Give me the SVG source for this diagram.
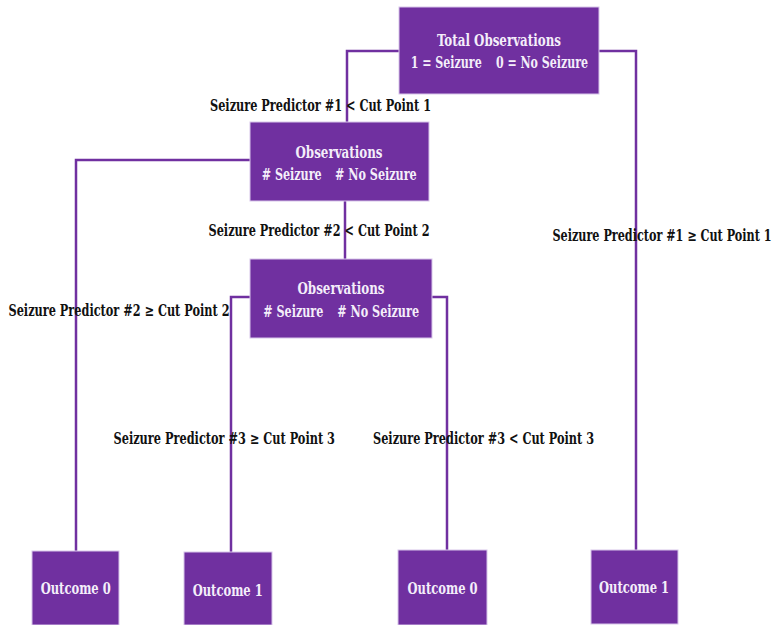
<svg xmlns="http://www.w3.org/2000/svg" width="774" height="625" viewBox="0 0 774 625">
<style>
.box{fill:#7030a0;stroke:#d8c6ea;stroke-width:1}
.bt{font-family:"DejaVu Serif Condensed","DejaVu Serif","Liberation Serif",serif;font-weight:bold;font-size:16px;fill:#f4eefa}
.c{text-anchor:middle}
.lb{font-family:"DejaVu Serif Condensed","DejaVu Serif","Liberation Serif",serif;font-weight:bold;font-size:16px;fill:#111111}
.ln{fill:none;stroke:#7030a0;stroke-width:2.5}
</style>
<rect width="774" height="625" fill="#ffffff"/>
<g id="connectors">
<polyline class="ln" points="399,51 347,51 347,122"/>
<polyline class="ln" points="599,51 636,51 636,550"/>
<polyline class="ln" points="250,160 76,160 76,551"/>
<line class="ln" x1="345" y1="201" x2="345" y2="259"/>
<polyline class="ln" points="250,297 231,297 231,552"/>
<polyline class="ln" points="432,297 447,297 447,550"/>
</g>
<g id="labels">
<text class="lb" x="210" y="110.5" textLength="221" lengthAdjust="spacingAndGlyphs">Seizure Predictor #1 &lt; Cut Point 1</text>
<text class="lb" x="208.5" y="236" textLength="221" lengthAdjust="spacingAndGlyphs">Seizure Predictor #2 &lt; Cut Point 2</text>
<text class="lb" x="8.5" y="315.5" textLength="221" lengthAdjust="spacingAndGlyphs">Seizure Predictor #2 ≥ Cut Point 2</text>
<text class="lb" x="113.5" y="444" textLength="221.5" lengthAdjust="spacingAndGlyphs">Seizure Predictor #3 ≥ Cut Point 3</text>
<text class="lb" x="373" y="444" textLength="221" lengthAdjust="spacingAndGlyphs">Seizure Predictor #3 &lt; Cut Point 3</text>
<text class="lb" x="552.5" y="240.5" textLength="219" lengthAdjust="spacingAndGlyphs">Seizure Predictor #1 ≥ Cut Point 1</text>
</g>
<g id="total">
<rect class="box" x="399" y="7" width="200" height="87"/>
<text class="bt c" x="499" y="45.5" textLength="124" lengthAdjust="spacingAndGlyphs">Total Observations</text>
<text class="bt" x="410.7" y="67.5" textLength="71" lengthAdjust="spacingAndGlyphs">1 = Seizure</text>
<text class="bt" x="496" y="67.5" textLength="92" lengthAdjust="spacingAndGlyphs">0 = No Seizure</text>
</g>
<g id="obs1">
<rect class="box" x="250" y="122" width="179" height="79"/>
<text class="bt c" x="339" y="157.5" textLength="87" lengthAdjust="spacingAndGlyphs">Observations</text>
<text class="bt" x="261.7" y="180" textLength="60" lengthAdjust="spacingAndGlyphs"># Seizure</text>
<text class="bt" x="335" y="180" textLength="81.7" lengthAdjust="spacingAndGlyphs"># No Seizure</text>
</g>
<g id="obs2">
<rect class="box" x="250" y="259" width="182" height="79"/>
<text class="bt c" x="341" y="294" textLength="87" lengthAdjust="spacingAndGlyphs">Observations</text>
<text class="bt" x="263.3" y="316.5" textLength="60" lengthAdjust="spacingAndGlyphs"># Seizure</text>
<text class="bt" x="337.3" y="316.5" textLength="81.7" lengthAdjust="spacingAndGlyphs"># No Seizure</text>
</g>
<g id="out1">
<rect class="box" x="32" y="551" width="87" height="74"/>
<text class="bt c" x="75.7" y="594" textLength="70" lengthAdjust="spacingAndGlyphs">Outcome 0</text>
</g>
<g id="out2">
<rect class="box" x="184" y="552" width="88" height="73"/>
<text class="bt c" x="227.7" y="596" textLength="70" lengthAdjust="spacingAndGlyphs">Outcome 1</text>
</g>
<g id="out3">
<rect class="box" x="398" y="550" width="89" height="75"/>
<text class="bt c" x="442.5" y="594" textLength="70" lengthAdjust="spacingAndGlyphs">Outcome 0</text>
</g>
<g id="out4">
<rect class="box" x="591" y="550" width="87" height="74"/>
<text class="bt c" x="634" y="593" textLength="70" lengthAdjust="spacingAndGlyphs">Outcome 1</text>
</g>
</svg>
